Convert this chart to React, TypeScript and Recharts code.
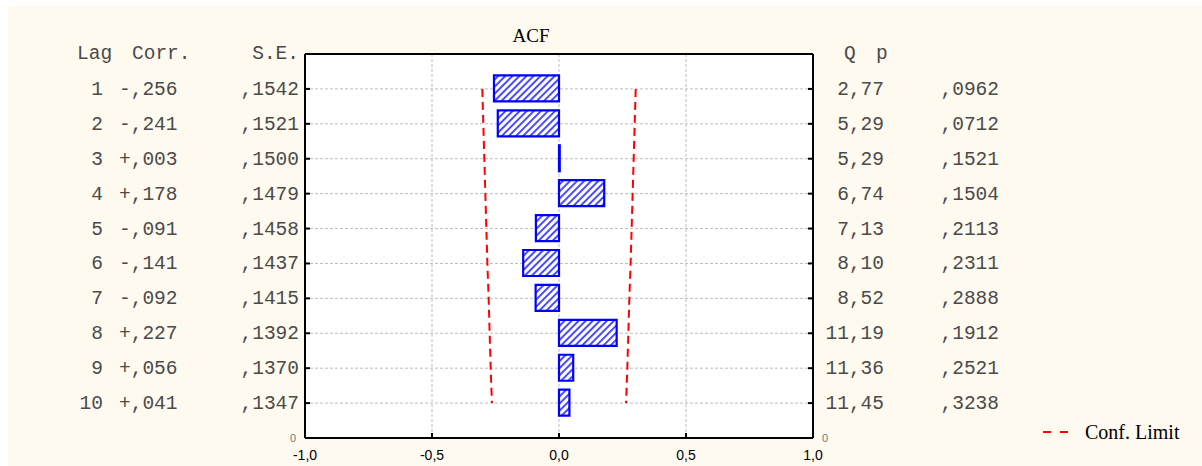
import {
  Bar,
  CartesianGrid,
  ComposedChart,
  Line,
  ReferenceLine,
  XAxis,
  YAxis,
} from 'recharts';

const lags = [1, 2, 3, 4, 5, 6, 7, 8, 9, 10];
const corr = [-0.256, -0.241, 0.003, 0.178, -0.091, -0.141, -0.092, 0.227, 0.056, 0.041];
const stdErr = [0.1542, 0.1521, 0.15, 0.1479, 0.1458, 0.1437, 0.1415, 0.1392, 0.137, 0.1347];
const qStat = [2.77, 5.29, 5.29, 6.74, 7.13, 8.1, 8.52, 11.19, 11.36, 11.45];
const pValue = [0.0962, 0.0712, 0.1521, 0.1504, 0.2113, 0.2311, 0.2888, 0.1912, 0.2521, 0.3238];
const confUpper = [0.302, 0.298, 0.294, 0.29, 0.286, 0.282, 0.277, 0.273, 0.269, 0.264];
const confLower = [-0.302, -0.298, -0.294, -0.29, -0.286, -0.282, -0.277, -0.273, -0.269, -0.264];
const xTicks = [-1, -0.5, 0, 0.5, 1];
const rowTicks = [1, 2, 3, 4, 5, 6, 7, 8, 9, 10, 11];

const data = lags.map((lag, i) => ({
  lag,
  corr: corr[i],
  se: stdErr[i],
  q: qStat[i],
  p: pValue[i],
  upper: confUpper[i],
  lower: confLower[i],
}));

const MONO = "'Liberation Mono', 'Courier New', monospace";
const SANS = "'Liberation Sans', Arial, sans-serif";
const SERIF = "'Liberation Serif', 'Times New Roman', serif";
const TEXT_GRAY = '#4a4a4a';

const fmtCorr = (v: number) =>
  (v < 0 ? '-' : '+') + ',' + String(Math.round(Math.abs(v) * 1000)).padStart(3, '0');
const fmtFrac4 = (v: number) => ',' + String(Math.round(v * 10000)).padStart(4, '0');
const fmtComma = (v: number, digits: number) => v.toFixed(digits).replace('.', ',');

// left axis = the Lag / Corr. / S.E. table
function LeftTick({ x, y, payload }: any) {
  const lag = payload.value;
  if (lag === 11) {
    return (
      <text x={x - 9} y={y + 4} textAnchor="end" fontSize={11} fill="#777" fontFamily={SANS}>
        0
      </text>
    );
  }
  const row = data[lag - 1];
  return (
    <g>
      <line x1={x} x2={x + 5} y1={y} y2={y} stroke="#000" strokeWidth={2} />
      <text x={103} y={y + 6} textAnchor="end" fontSize={19.5} fill={TEXT_GRAY} fontFamily={MONO}>
        {row.lag}
      </text>
      <text x={119} y={y + 6} fontSize={19.5} fill={TEXT_GRAY} fontFamily={MONO}>
        {fmtCorr(row.corr)}
      </text>
      <text x={299} y={y + 6} textAnchor="end" fontSize={19.5} fill={TEXT_GRAY} fontFamily={MONO}>
        {fmtFrac4(row.se)}
      </text>
    </g>
  );
}

// right axis = Q / p columns
function RightTick({ x, y, payload }: any) {
  const lag = payload.value;
  if (lag === 11) {
    return (
      <text x={x + 9} y={y + 4} fontSize={11} fill="#777" fontFamily={SANS}>
        0
      </text>
    );
  }
  const row = data[lag - 1];
  return (
    <g>
      <line x1={x - 5} x2={x} y1={y} y2={y} stroke="#000" strokeWidth={2} />
      <text x={884} y={y + 6} textAnchor="end" fontSize={19.5} fill={TEXT_GRAY} fontFamily={MONO}>
        {fmtComma(row.q, 2)}
      </text>
      <text x={999} y={y + 6} textAnchor="end" fontSize={19.5} fill={TEXT_GRAY} fontFamily={MONO}>
        {fmtFrac4(row.p)}
      </text>
    </g>
  );
}

function BottomTick({ x, y, payload }: any) {
  return (
    <g>
      <line x1={x} x2={x} y1={y} y2={y - 5} stroke="#000" strokeWidth={2} />
      <text x={x} y={y + 22} textAnchor="middle" fontSize={14} fill="#000" fontFamily={SANS}>
        {fmtComma(payload.value, 1)}
      </text>
    </g>
  );
}

export default function App() {
  return (
    <div style={{ position: 'absolute', left: 0, top: 0, width: 1202, height: 466, background: '#fff', overflow: 'hidden' }}>
      <svg width={0} height={0} style={{ position: 'absolute' }}>
        <defs>
          <pattern id="acfHatch" width={5} height={5} patternUnits="userSpaceOnUse" patternTransform="rotate(45)">
            <rect width={5} height={5} fill="#fff" />
            <rect width={2} height={5} fill="#4b4bff" />
          </pattern>
        </defs>
      </svg>
      <div style={{ position: 'absolute', left: 8, top: 6, right: 0, bottom: 0, background: '#fefaf0' }} />
      <div style={{ position: 'absolute', left: 0, top: 0 }}>
        <ComposedChart
          width={1202}
          height={466}
          data={data}
          layout="vertical"
          margin={{ top: 54, right: 0, bottom: 0, left: 0 }}
        >
          <CartesianGrid yAxisId="left" fill="#fff" stroke="#bdbdbd" strokeDasharray="3 2" />
          <XAxis
            type="number"
            domain={[-1, 1]}
            ticks={xTicks}
            height={28}
            tickSize={0}
            tickMargin={0}
            tick={<BottomTick />}
            axisLine={{ stroke: '#000', strokeWidth: 2 }}
          />
          <YAxis
            yAxisId="left"
            type="number"
            dataKey="lag"
            domain={[0, 11]}
            ticks={rowTicks}
            width={305}
            tickSize={0}
            tickMargin={0}
            tick={<LeftTick />}
            axisLine={{ stroke: '#000', strokeWidth: 2 }}
          />
          <YAxis
            yAxisId="right"
            orientation="right"
            type="number"
            dataKey="lag"
            domain={[0, 11]}
            ticks={rowTicks}
            width={389}
            tickSize={0}
            tickMargin={0}
            tick={<RightTick />}
            axisLine={{ stroke: '#000', strokeWidth: 2 }}
          />
          <ReferenceLine yAxisId="left" y={0} stroke="#000" strokeWidth={2} />
          <Bar
            yAxisId="left"
            dataKey="corr"
            barSize={26}
            fill="url(#acfHatch)"
            stroke="#0000ff"
            strokeWidth={2.2}
            isAnimationActive={false}
          />
          <Line
            yAxisId="left"
            dataKey="upper"
            stroke="#ff0000"
            strokeWidth={2}
            strokeDasharray="8 5"
            dot={false}
            activeDot={false}
            isAnimationActive={false}
          />
          <Line
            yAxisId="left"
            dataKey="lower"
            stroke="#ff0000"
            strokeWidth={2}
            strokeDasharray="8 5"
            dot={false}
            activeDot={false}
            isAnimationActive={false}
          />
        </ComposedChart>
      </div>
      <svg width={1202} height={466} style={{ position: 'absolute', left: 0, top: 0, pointerEvents: 'none' }}>
        <text x={531} y={42} textAnchor="middle" fontSize={19} fontFamily={SERIF} fill="#000">
          ACF
        </text>
        <text x={77} y={59} fontSize={19.5} fontFamily={MONO} fill={TEXT_GRAY}>Lag</text>
        <text x={132} y={59} fontSize={19.5} fontFamily={MONO} fill={TEXT_GRAY}>Corr.</text>
        <text x={299} y={59} textAnchor="end" fontSize={19.5} fontFamily={MONO} fill={TEXT_GRAY}>S.E.</text>
        <text x={844} y={59} fontSize={19.5} fontFamily={MONO} fill={TEXT_GRAY}>Q</text>
        <text x={876} y={59} fontSize={19.5} fontFamily={MONO} fill={TEXT_GRAY}>p</text>
        <line x1={1043} x2={1068} y1={432} y2={432} stroke="#ff0000" strokeWidth={2} strokeDasharray="8 9" />
        <text x={1085} y={439} fontSize={20} fontFamily={SERIF} fill="#000">Conf. Limit</text>
      </svg>
    </div>
  );
}
